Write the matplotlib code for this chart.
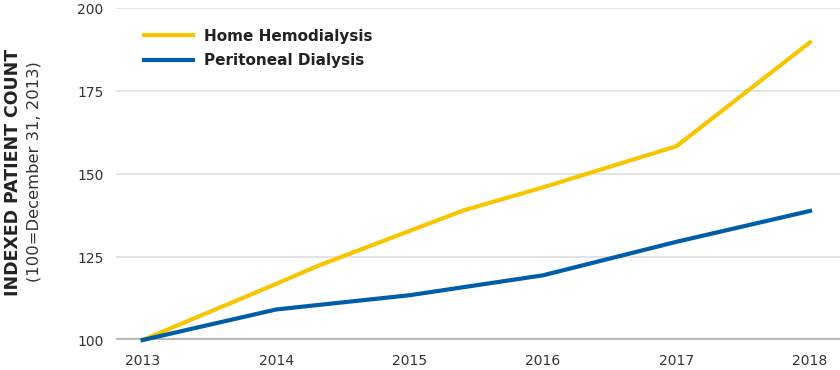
import matplotlib
matplotlib.use("Agg")
from matplotlib import pyplot as plt

# data
years_hhd = [2013, 2014, 2014.31, 2015.4, 2016, 2017, 2018]
home_hemo = [100, 116.9, 122.3, 139, 146, 158.4, 189.7]
years_pd = [2013, 2014, 2015, 2016, 2017, 2018]
peritoneal = [100, 109.2, 113.5, 119.5, 129.6, 138.9]
year_ticks = [2013, 2014, 2015, 2016, 2017, 2018]
y_ticks = [100, 125, 150, 175, 200]

amarillo = "#F7C600"
azul = "#005DA8"

plt.rcParams["font.family"] = ["DejaVu Sans"]

fig = plt.figure(figsize=(8.4, 3.7), dpi=100)
ax = fig.add_axes([0.138, 0.081, 0.862, 0.897])

for y in y_ticks[1:]:
    ax.axhline(y, color="#dcdcdc", lw=1.1, zorder=1)
ax.axhline(100, color="#b9b9b9", lw=3.8, zorder=2)

ax.plot(years_hhd, home_hemo, color=amarillo, lw=3, label="Home Hemodialysis",
        zorder=4, clip_on=False, solid_joinstyle="miter")
ax.plot(years_pd, peritoneal, color=azul, lw=3, label="Peritoneal Dialysis",
        zorder=5, clip_on=False, solid_joinstyle="miter")

ax.set_xlim(2012.8, 2018.225)
ax.set_ylim(100, 200)
ax.set_xticks(year_ticks)
ax.set_yticks(y_ticks)
ax.tick_params(length=0, labelsize=10, colors="#333333")
ax.tick_params(axis="x", pad=10)
ax.tick_params(axis="y", pad=9)
for s in ax.spines.values():
    s.set_visible(False)

leg = ax.legend(loc="upper left", bbox_to_anchor=(0.02, 0.98), frameon=False,
                handlelength=3.2, handletextpad=0.75, labelspacing=0.62,
                prop={"weight": "bold", "size": 11})
for t in leg.get_texts():
    t.set_color("#222222")

fig.text(0.015, 0.535, "INDEXED PATIENT COUNT", rotation=90, ha="center",
         va="center", fontsize=12.5, fontweight="bold", color="#222222")
fig.text(0.041, 0.535, "(100=December 31, 2013)", rotation=90, ha="center",
         va="center", fontsize=11.8, color="#333333")

fig.savefig("out.png", dpi=100)
